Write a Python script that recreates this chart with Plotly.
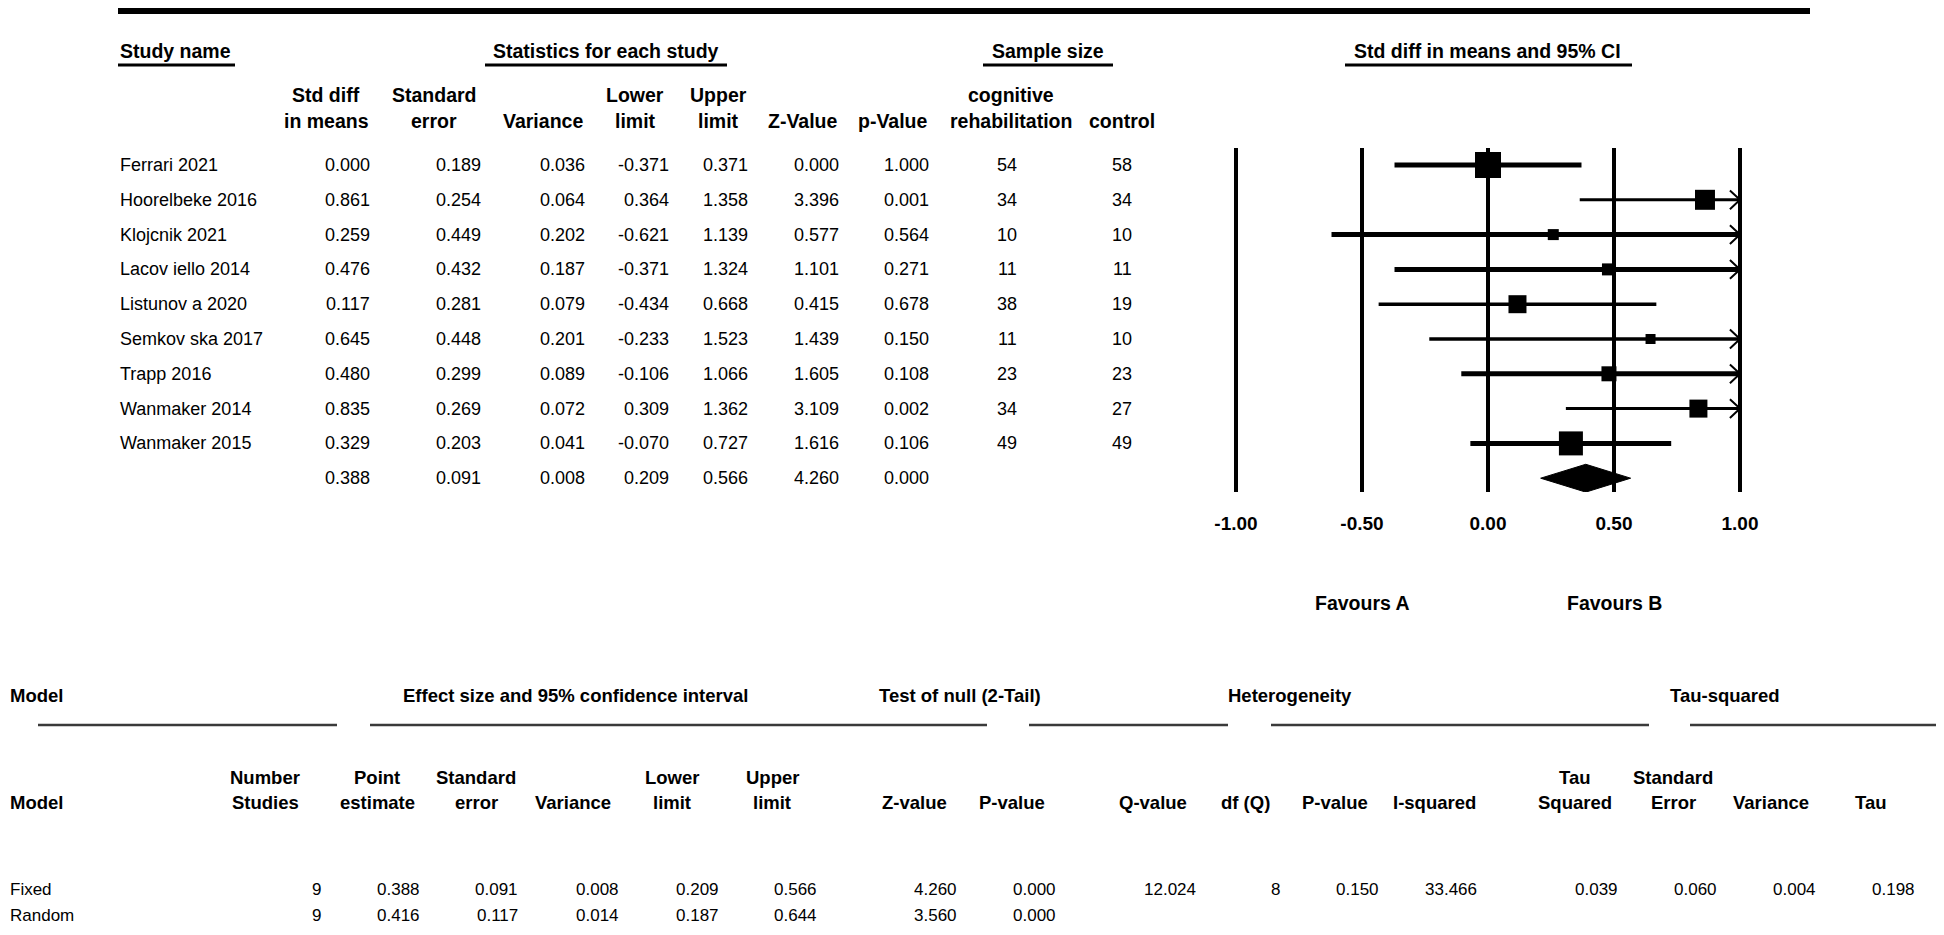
import plotly.graph_objects as go

# ---------------- data ----------------
studies = ["Ferrari 2021", "Hoorelbeke 2016", "Klojcnik 2021", "Lacov iello 2014",
           "Listunov a 2020", "Semkov ska 2017", "Trapp 2016", "Wanmaker 2014", "Wanmaker 2015"]
std_diff = [0.000, 0.861, 0.259, 0.476, 0.117, 0.645, 0.480, 0.835, 0.329]
std_err = [0.189, 0.254, 0.449, 0.432, 0.281, 0.448, 0.299, 0.269, 0.203]
variance = [0.036, 0.064, 0.202, 0.187, 0.079, 0.201, 0.089, 0.072, 0.041]
lower = [-0.371, 0.364, -0.621, -0.371, -0.434, -0.233, -0.106, 0.309, -0.070]
upper = [0.371, 1.358, 1.139, 1.324, 0.668, 1.523, 1.066, 1.362, 0.727]
z_value = [0.000, 3.396, 0.577, 1.101, 0.415, 1.439, 1.605, 3.109, 1.616]
p_value = [1.000, 0.001, 0.564, 0.271, 0.678, 0.150, 0.108, 0.002, 0.106]
n_cognitive = [54, 34, 10, 11, 38, 11, 23, 34, 49]
n_control = [58, 34, 10, 11, 19, 10, 23, 27, 49]

sum_est, sum_se, sum_var, sum_lo, sum_hi, sum_z, sum_p = 0.388, 0.091, 0.008, 0.209, 0.566, 4.260, 0.000

axis_ticks = [-1.0, -0.5, 0.0, 0.5, 1.0]
axis_ticktext = ["-1.00", "-0.50", "0.00", "0.50", "1.00"]

model_names = ["Fixed", "Random"]
model_k = [9, 9]
model_est = [0.388, 0.416]
model_se = [0.091, 0.117]
model_var = [0.008, 0.014]
model_lo = [0.209, 0.187]
model_hi = [0.566, 0.644]
model_z = [4.260, 3.560]
model_p = [0.000, 0.000]
q_value, df_q, p_het, i_squared = 12.024, 8, 0.150, 33.466
tau_squared, tau_sq_se, tau_sq_var, tau = 0.039, 0.060, 0.004, 0.198

# ---------------- styles / layout ----------------
# page body has an 8px margin; figure is sized to fit the 1944x935 window exactly
OFF = 8
W, H = 1944 - 2 * OFF, 935 - 2 * OFF
def px(x): return (x - OFF) / W
def py(y): return 1 - (y - OFF) / H

square_size = [26, 20, 11, 12, 18, 10, 15, 18, 24]
ci_width = [5, 3, 5, 5, 3.5, 3.5, 5, 3, 5]

SANS = "Liberation Sans, Arial, sans-serif"

fig = go.Figure()

rows = list(range(1, len(studies) + 1))
sum_row = len(studies) + 1
x_clip = axis_ticks[-1]

for i in range(len(studies)):
    hi = min(upper[i], x_clip)
    fig.add_trace(go.Scatter(x=[lower[i], hi], y=[rows[i], rows[i]], mode="lines",
                             line=dict(color="black", width=ci_width[i]),
                             hoverinfo="skip", cliponaxis=False))

# chevron arrows for intervals extending beyond the axis
cx, cy = [], []
dx, dy = 0.04, 0.27
for i in range(len(studies)):
    if upper[i] > x_clip:
        cx += [x_clip - dx, x_clip, x_clip - dx, None]
        cy += [rows[i] - dy, rows[i], rows[i] + dy, None]
fig.add_trace(go.Scatter(x=cx, y=cy, mode="lines", line=dict(color="black", width=2),
                         hoverinfo="skip", cliponaxis=False))

fig.add_trace(go.Scatter(x=std_diff, y=rows, mode="markers", opacity=1,
                         marker=dict(symbol="square", size=square_size, color="#000000",
                                     opacity=1, line=dict(width=0)),
                         cliponaxis=False))

dh = 0.40
fig.add_trace(go.Scatter(x=[sum_lo, sum_est, sum_hi, sum_est, sum_lo],
                         y=[sum_row, sum_row - dh, sum_row, sum_row + dh, sum_row],
                         mode="lines", fill="toself", fillcolor="black",
                         line=dict(color="black", width=1), cliponaxis=False))

# axes: forest plot
x0_px, unit_px = 1488, 252
xr = [-1.2, 1.2]
dom_x = [px(x0_px + xr[0] * unit_px), px(x0_px + xr[1] * unit_px)]
row0_px, row_step = 165, 34.8
top_px, bot_px = 148, 492
yr = [1 + (bot_px - row0_px) / row_step, 1 + (top_px - row0_px) / row_step]

fig.update_layout(
    width=W, height=H, margin=dict(l=0, r=0, t=0, b=0),
    paper_bgcolor="white", plot_bgcolor="white", showlegend=False,
    xaxis=dict(domain=dom_x, range=xr, tickvals=axis_ticks, ticktext=axis_ticktext,
               showgrid=True, gridcolor="black", gridwidth=3.5, zeroline=False,
               showline=False, ticks="outside", ticklen=14, tickcolor="rgba(0,0,0,0)",
               tickfont=dict(family=SANS, size=19, color="black", weight="bold")),
    yaxis=dict(domain=[py(bot_px), py(top_px)], range=yr, showgrid=False,
               zeroline=False, showticklabels=False, showline=False),
)

def ann(x, y, text, anchor="center", size=19, bold=False, family=SANS, yref="paper", xref="paper"):
    fig.add_annotation(x=x, y=y, xref=xref, yref=yref, text=text, showarrow=False,
                       xanchor=anchor, yanchor="middle",
                       font=dict(family=family, size=size, color="black",
                                 weight="bold" if bold else "normal"))

def hline(x0, x1, y, width, color="black"):
    fig.add_shape(type="line", xref="paper", yref="paper", x0=px(x0), x1=px(x1),
                  y0=py(y), y1=py(y), line=dict(color=color, width=width))

# ---------------- top table ----------------
hline(118, 1810, OFF + 3, 6)
HB = 19.5
ann(px(118), py(51), "Study name", "left", HB, True)
ann(px(606), py(51), "Statistics for each study", "center", HB, True)
ann(px(1048), py(51), "Sample size", "center", HB, True)
ann(px(1487), py(51), "Std diff in means and 95% CI", "center", HB, True)
for a, b in [(118, 235), (485, 727), (983, 1113), (1345, 1632)]:
    hline(a, b, 65, 3)

top_headers = [(326, "Std diff", "in means"), (434, "Standard", "error"), (543, "", "Variance"),
               (635, "Lower", "limit"), (718, "Upper", "limit"), (803, "", "Z-Value"),
               (893, "", "p-Value"), (1011, "cognitive", "rehabilitation"), (1122, "", "control")]
for cxp, l1, l2 in top_headers:
    if l1:
        ann(px(cxp), py(95), l1, "center", HB, True)
    ann(px(cxp), py(121), l2, "center", HB, True)

col_right = [372, 483, 587, 671, 750, 841, 931, 1019, 1134]
DS = 18
for i in range(len(studies)):
    r = rows[i]
    ann(px(118), r, studies[i], "left", DS, False, SANS, "y")
    vals = [f"{std_diff[i]:.3f}", f"{std_err[i]:.3f}", f"{variance[i]:.3f}", f"{lower[i]:.3f}",
            f"{upper[i]:.3f}", f"{z_value[i]:.3f}", f"{p_value[i]:.3f}",
            str(n_cognitive[i]), str(n_control[i])]
    for xr_, v in zip(col_right, vals):
        ann(px(xr_), r, v, "right", DS, False, SANS, "y")
sum_vals = [f"{v:.3f}" for v in [sum_est, sum_se, sum_var, sum_lo, sum_hi, sum_z, sum_p]]
for xr_, v in zip(col_right, sum_vals):
    ann(px(xr_), sum_row, v, "right", DS, False, SANS, "y")

ann(-0.5, py(603), "Favours A", "center", HB, True, SANS, "paper", "x")
ann(0.5, py(603), "Favours B", "center", HB, True, SANS, "paper", "x")

# ---------------- bottom table ----------------
BH, BD = 18.5, 17
ann(px(OFF), py(695), "Model", "left", BH, True)
ann(px(575), py(695), "Effect size and 95% confidence interval", "center", BH, True)
ann(px(960), py(695), "Test of null (2-Tail)", "center", BH, True)
ann(px(1290), py(695), "Heterogeneity", "center", BH, True)
ann(px(1725), py(695), "Tau-squared", "center", BH, True)
for a, b in [(38, 337), (370, 987), (1029, 1228), (1271, 1649), (1690, 1936)]:
    hline(a, b, 725, 2.5, "#3a3a3a")

ann(px(OFF), py(802), "Model", "left", BH, True)
bottom_headers = [(265, "Number", "Studies"), (377, "Point", "estimate"), (476, "Standard", "error"),
                  (573, "", "Variance"), (672, "Lower", "limit"), (772, "Upper", "limit"),
                  (914, "", "Z-value"), (1012, "", "P-value"), (1153, "", "Q-value"),
                  (1245, "", "df (Q)"), (1335, "", "P-value"), (1434, "", "I-squared"),
                  (1575, "Tau", "Squared"), (1673, "Standard", "Error"), (1771, "", "Variance"),
                  (1871, "", "Tau")]
for cxp, l1, l2 in bottom_headers:
    if l1:
        ann(px(cxp), py(777), l1, "center", BH, True)
    ann(px(cxp), py(802), l2, "center", BH, True)

bt_right = [323, 422, 520, 621, 721, 819, 959, 1058, 1198, 1282, 1381, 1479, 1620, 1719, 1818, 1917]
row_y = [889, 915]
for j in range(len(model_names)):
    ann(px(OFF), py(row_y[j]), model_names[j], "left", BD, False)
    vals = [str(model_k[j]), f"{model_est[j]:.3f}", f"{model_se[j]:.3f}", f"{model_var[j]:.3f}",
            f"{model_lo[j]:.3f}", f"{model_hi[j]:.3f}", f"{model_z[j]:.3f}", f"{model_p[j]:.3f}"]
    if j == 0:
        vals += [f"{q_value:.3f}", str(df_q), f"{p_het:.3f}", f"{i_squared:.3f}",
                 f"{tau_squared:.3f}", f"{tau_sq_se:.3f}", f"{tau_sq_var:.3f}", f"{tau:.3f}"]
    for xr_, v in zip(bt_right, vals):
        ann(px(xr_), py(row_y[j]), v, "right", BD, False)

fig.write_html("out.html")
